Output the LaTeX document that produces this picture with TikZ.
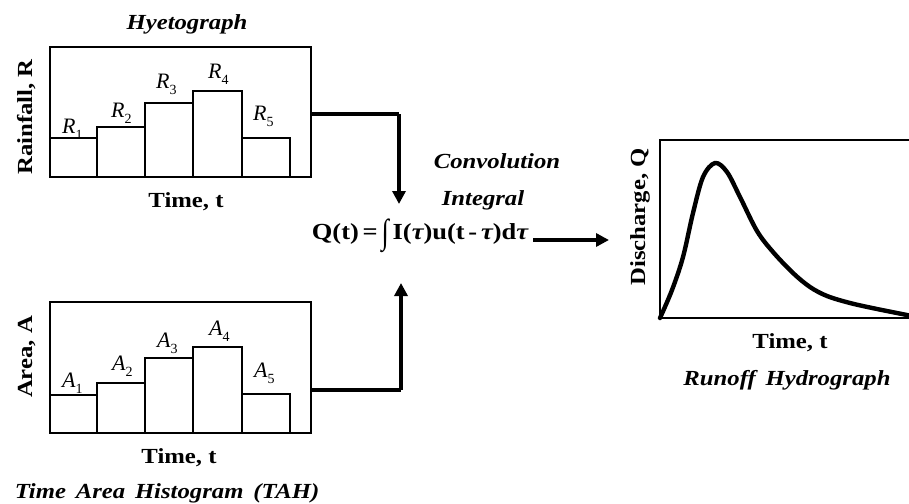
\documentclass[tikz,border=0pt]{standalone}
\usepackage{fontspec}
\setmainfont{Liberation Serif}
\newfontfamily\wideserif{Liberation Serif}[FakeStretch=1.15]
\usetikzlibrary{arrows.meta}
\newcommand{\lab}[2]{{\fontsize{22}{24}\selectfont\itshape #1}\raisebox{-6.5pt}{\fontsize{14}{14}\selectfont #2}}
\tikzset{
  frame/.style={line width=2.6pt},
  bar/.style={line width=2.6pt},
  conn/.style={line width=3.2pt},
  arr/.style={line width=3.6pt,-{Triangle[length=13pt,width=13pt]}},
  lbl/.style={font=\wideserif\fontsize{21.5}{24}\selectfont\bfseries, inner sep=0pt, anchor=base},
  ttl/.style={font=\wideserif\fontsize{21.5}{24}\selectfont\bfseries\itshape, inner sep=0pt, anchor=base},
  sub/.style={inner sep=0pt, anchor=base west},
}
\begin{document}
\begin{tikzpicture}[x=1pt,y=-1pt]
\useasboundingbox (0,0) rectangle (909,503);
% ---------- Hyetograph ----------
\node[ttl] (hyt) at (187,30) {Hyetograph};
\draw[frame] (50,47) rectangle (311,177);
\draw[bar] (50,177) -- (50,138) -- (97,138) -- (97,177);
\draw[bar] (97,177) -- (97,127) -- (145,127) -- (145,177);
\draw[bar] (145,177) -- (145,103) -- (193,103) -- (193,177);
\draw[bar] (193,177) -- (193,91) -- (242,91) -- (242,177);
\draw[bar] (242,177) -- (242,138) -- (290,138) -- (290,177);
\node[sub] (r1) at (62,133) {\lab{R}{1}};
\node[sub] (r2) at (111,117) {\lab{R}{2}};
\node[sub] (r3) at (156,88) {\lab{R}{3}};
\node[sub] (r4) at (208,78) {\lab{R}{4}};
\node[sub] (r5) at (253,120) {\lab{R}{5}};
\node[lbl, rotate=90] (ylab1) at (32,117) {Rainfall, R};
\node[lbl] (xlab1) at (186,207) {Time, t};
% ---------- TAH ----------
\draw[frame] (50,302) rectangle (311,433);
\draw[bar] (50,433) -- (50,395) -- (97,395) -- (97,433);
\draw[bar] (97,433) -- (97,383) -- (145,383) -- (145,433);
\draw[bar] (145,433) -- (145,358) -- (193,358) -- (193,433);
\draw[bar] (193,433) -- (193,347) -- (242,347) -- (242,433);
\draw[bar] (242,433) -- (242,394) -- (290,394) -- (290,433);
\node[sub] (a1) at (62,387) {\lab{A}{1}};
\node[sub] (a2) at (112,370) {\lab{A}{2}};
\node[sub] (a3) at (157,347) {\lab{A}{3}};
\node[sub] (a4) at (209,335) {\lab{A}{4}};
\node[sub] (a5) at (254,377) {\lab{A}{5}};
\node[lbl, rotate=90] (ylab2) at (32,357) {Area, A};
\node[lbl] (xlab2) at (179,463) {Time, t};
\node[ttl] (tah) at (167,498) {Time\ \,Area\ \,Histogram\ \,(TAH)};
% ---------- Convolution ----------
\node[ttl] (conv) at (497,168) {Convolution};
\node[ttl] (intg) at (483,205) {Integral};
\node[lbl, font=\wideserif\fontsize{23}{24}\selectfont\bfseries] (eq) at (420,239)
  {Q(t)\,=\,\raisebox{-0.18em}{\scalebox{1}[1.5]{∫}}\,I({\itshape τ})u(t\,-\,{\itshape τ})d{\itshape τ}};
\coordinate (hA) at (311,114);
\coordinate (hB) at (399,114);
\coordinate (tipD) at (399,204);
\coordinate (tA) at (311,390);
\coordinate (tB) at (401,390);
\coordinate (tipU) at (401,283);
\draw[conn] (hA) -- (hB);
\draw[arr] (hB) -- (tipD);
\draw[conn] (tA) -- (tB);
\draw[arr] (tB) -- (tipU);
\coordinate (tipR) at (609,240);
\path (eq.east |- tipR) ++(5,0) coordinate (eqR);
\draw[arr] (eqR) -- (tipR);
% ---------- Hydrograph ----------
\draw[frame] (660,140) rectangle (914,318);
\draw[line width=4.4pt, line join=round, line cap=round] plot[smooth, tension=0.55] coordinates {
 (660,318) (672,290) (683,257) (693,213) (703,177) (715,163) (727,172) (740,197)
 (757,231) (773,252) (793,273) (810,287) (827,296) (850,303) (877,309) (912,316)};
\node[lbl, rotate=90] (ylab3) at (645,217) {Discharge, Q};
\node[lbl] (xlab3) at (790,348) {Time, t};
\node[ttl] (rh) at (787,385) {Runoff\ \,Hydrograph};
\end{tikzpicture}
\end{document}
